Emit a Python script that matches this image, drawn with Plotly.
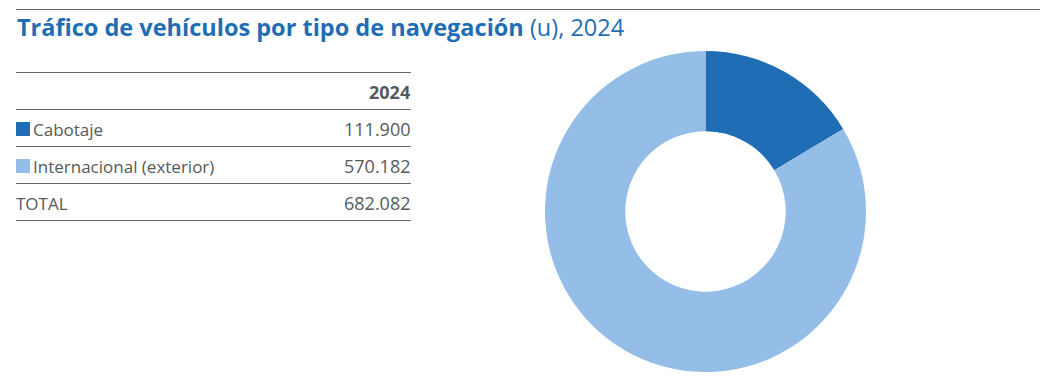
import plotly.graph_objects as go

W, H = 1052, 388
OFF = 8  # page body margin
title_bold = "Tráfico de vehículos por tipo de navegación"
title_rest = " (u), 2024"
year_label = "2024"
categories = ["Cabotaje", "Internacional (exterior)"]
values = [111900, 570182]
value_labels = ["111.900", "570.182"]
total_label = "TOTAL"
total_value = "682.082"
colors = ["#1f6db5", "#94bee8"]

TXT = "#555a5c"
FONT = "Open Sans"

def px(x):
    return (x - OFF) / W

def py(y):
    return 1 - (y - OFF) / H

fig = go.Figure()
fig.add_trace(go.Pie(
    labels=categories, values=values, hole=0.5, sort=False,
    direction="clockwise", rotation=0,
    marker=dict(colors=colors, line=dict(width=0)),
    textinfo="none", showlegend=False,
    domain=dict(x=[px(545), px(866)], y=[py(372), py(51)]),
))

shapes = []
shapes.append(dict(type="line", xref="paper", yref="paper",
                   x0=px(16), x1=px(1040), y0=py(9.5), y1=py(9.5),
                   line=dict(color="#666", width=1)))
for yy in [72.5, 109.5, 146.5, 183.5, 220.5]:
    shapes.append(dict(type="line", xref="paper", yref="paper",
                       x0=px(16), x1=px(411), y0=py(yy), y1=py(yy),
                       line=dict(color="#666", width=1)))
row_y = [129, 166]
for c, yy in zip(colors, row_y):
    shapes.append(dict(type="rect", xref="paper", yref="paper",
                       x0=px(16), x1=px(30), y0=py(yy + 7), y1=py(yy - 7),
                       fillcolor=c, line=dict(width=0)))

ann = []
ann.append(dict(x=px(15), y=py(27), xref="paper", yref="paper",
                xanchor="left", yanchor="middle", showarrow=False,
                text=f"<b>{title_bold}</b>{title_rest}",
                font=dict(family=FONT, size=23.5, color="#1f6db5")))
ann.append(dict(x=px(412), y=py(92), xref="paper", yref="paper",
                xanchor="right", yanchor="middle", showarrow=False,
                text=f"<b>{year_label}</b>",
                font=dict(family=FONT, size=18, color=TXT)))
for cat, lab, yy in zip(categories, value_labels, row_y):
    ann.append(dict(x=px(31), y=py(yy), xref="paper", yref="paper",
                    xanchor="left", yanchor="middle", showarrow=False,
                    text=cat, font=dict(family=FONT, size=17, color=TXT)))
    ann.append(dict(x=px(412), y=py(yy), xref="paper", yref="paper",
                    xanchor="right", yanchor="middle", showarrow=False,
                    text=lab, font=dict(family=FONT, size=18, color=TXT)))
ann.append(dict(x=px(14), y=py(203), xref="paper", yref="paper",
                xanchor="left", yanchor="middle", showarrow=False,
                text=total_label, font=dict(family=FONT, size=17, color=TXT)))
ann.append(dict(x=px(412), y=py(203), xref="paper", yref="paper",
                xanchor="right", yanchor="middle", showarrow=False,
                text=total_value, font=dict(family=FONT, size=18, color=TXT)))

fig.update_layout(
    width=W, height=H, margin=dict(l=0, r=0, t=0, b=0),
    paper_bgcolor="white", plot_bgcolor="white",
    shapes=shapes, annotations=ann,
)
fig.write_html("out.html")
